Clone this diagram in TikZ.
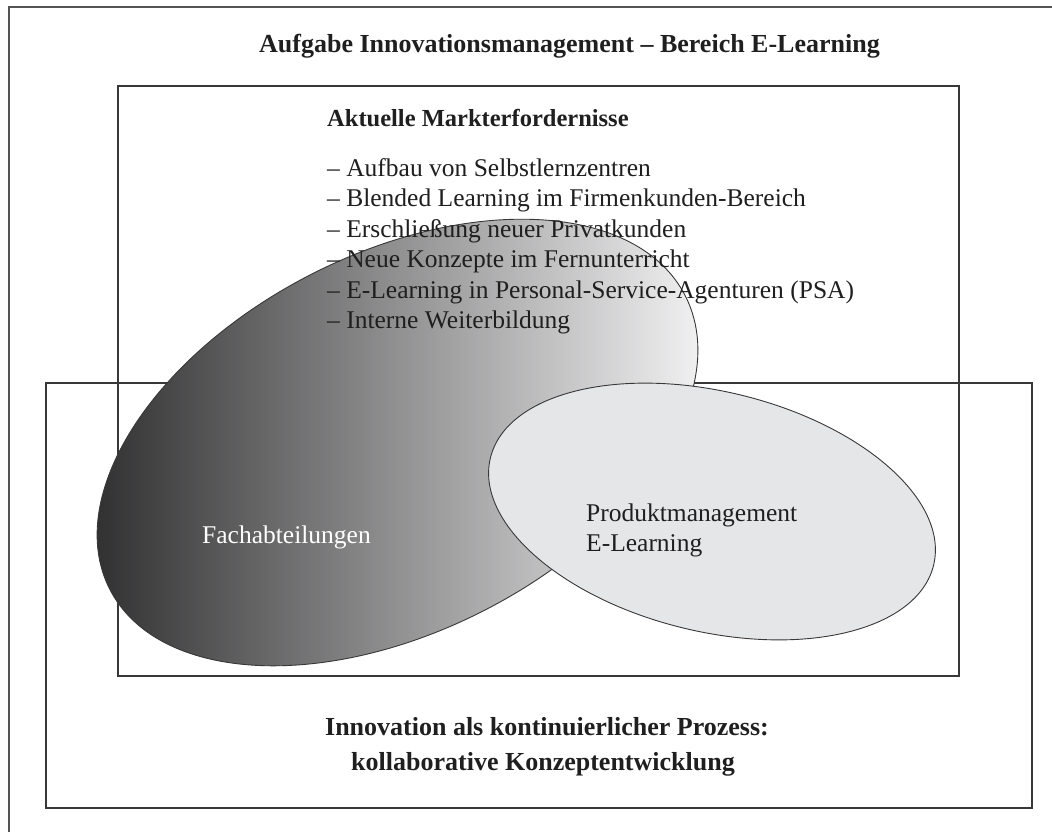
\documentclass[tikz,border=0pt]{standalone}
\usepackage{fontspec}
\setmainfont{Liberation Serif}
\newlength{\du}
\setlength{\du}{1pt}
\definecolor{framegray}{rgb}{0.330000, 0.330000, 0.330000}
\definecolor{boxgray}{rgb}{0.220000, 0.220000, 0.220000}
\definecolor{fachdark}{rgb}{0.150000, 0.150000, 0.155000}
\definecolor{fachmidgray}{rgb}{0.610000, 0.615000, 0.630000}
\definecolor{fachlight}{rgb}{0.985000, 0.985000, 0.990000}
\definecolor{produktgray}{rgb}{0.898000, 0.902000, 0.910000}
\definecolor{textblack}{rgb}{0.120000, 0.120000, 0.120000}
\tikzset{
  frameline/.style={line width=1.4\du, draw=framegray},
  boxline/.style={line width=1.3\du, draw=boxgray},
  fachfill/.style={left color=fachdark, middle color=fachmidgray, right color=fachlight, draw=boxgray, line width=0.9\du},
  produktfill/.style={fill=produktgray, draw=boxgray, line width=0.9\du},
  titletext/.style={anchor=base, inner sep=0pt, text=textblack, font=\bfseries\fontsize{26\du}{30\du}\selectfont},
  headtext/.style={anchor=base west, inner sep=0pt, text=textblack, font=\bfseries\fontsize{24.5\du}{30\du}\selectfont},
  itemtext/.style={anchor=base west, inner sep=0pt, text=textblack, font=\fontsize{25.5\du}{30\du}\selectfont},
}

\begin{document}
\begin{tikzpicture}
\pgftransformyscale{-1.000000}
\useasboundingbox (0\du,0\du) rectangle (1052\du,831\du);
\clip (0\du,0\du) rectangle (1052\du,831\du);
% outer frame (runs off at right and bottom)
\draw[frameline] (9\du,7\du) rectangle (1080\du,860\du);
% market box and process box
\draw[boxline] (118\du,86\du) rectangle (959\du,676\du);
\draw[boxline] (46\du,383\du) rectangle (1032\du,808\du);
% ellipses
\coordinate (fachmid) at (397.5\du,442.5\du);
\coordinate (produktmid) at (712\du,511.5\du);
\shade[fachfill] (fachmid) ellipse [x radius=323\du, y radius=189\du, rotate=-27];
\filldraw[produktfill] (produktmid) ellipse [x radius=228\du, y radius=120\du, rotate=13.6];
% setfont left to latex
\node[titletext] (titel) at (569.5\du,52\du){Aufgabe Innovationsmanagement – Bereich E-Learning};
\node[headtext] (markt) at (327\du,126\du){Aktuelle Markterfordernisse};
\node[itemtext] (punkt1) at (327\du,176\du){– Aufbau von Selbstlernzentren};
\node[itemtext] (punkt2) at (327\du,206.5\du){– Blended Learning im Firmenkunden-Bereich};
\node[itemtext] (punkt3) at (327\du,237\du){– Erschließung neuer Privatkunden};
\node[itemtext] (punkt4) at (327\du,267.5\du){– Neue Konzepte im Fernunterricht};
\node[itemtext] (punkt5) at (327\du,298\du){– E-Learning in Personal-Service-Agenturen (PSA)};
\node[itemtext] (punkt6) at (327\du,328.5\du){– Interne Weiterbildung};
\node[itemtext, text=white] (fach) at (202\du,543\du){Fachabteilungen};
\node[itemtext] (produkt1) at (586\du,521\du){Produktmanagement};
\node[itemtext] (produkt2) at (586\du,551\du){E-Learning};
\node[titletext] (prozess1) at (547\du,735\du){Innovation als kontinuierlicher Prozess:};
\node[titletext] (prozess2) at (543\du,770\du){kollaborative Konzeptentwicklung};
\end{tikzpicture}
\end{document}
